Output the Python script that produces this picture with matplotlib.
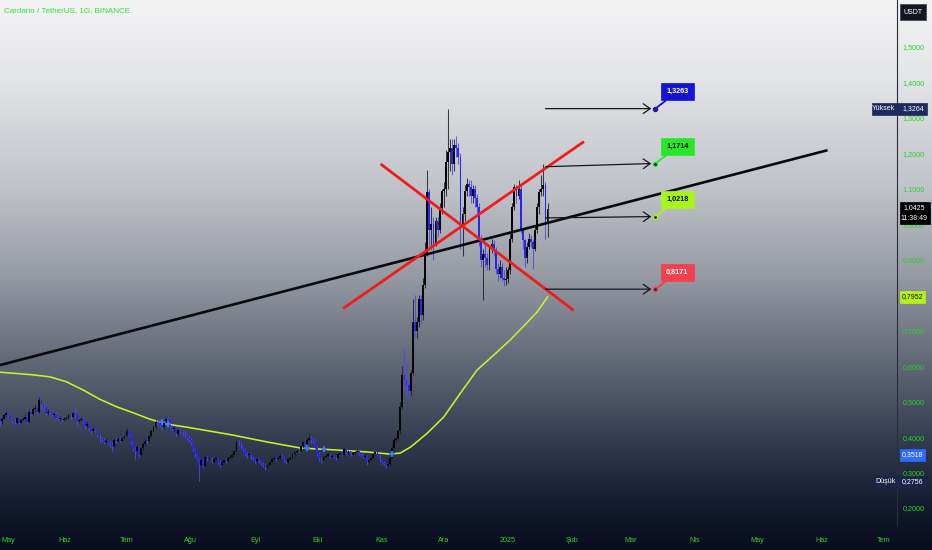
import numpy as np
import pandas as pd
import matplotlib
matplotlib.use("Agg")
import matplotlib.pyplot as plt
from matplotlib.transforms import blended_transform_factory, ScaledTranslation
from matplotlib.patches import Rectangle

plt.rcParams['font.family'] = ['Liberation Sans Narrow', 'Liberation Sans', 'DejaVu Sans']

# ---------------- data (daily ADA/USDT) ----------------
start_date = '2024-05-01'
first_open = 0.458

close_may = [0.445, 0.452, 0.462, 0.468, 0.463, 0.452, 0.445, 0.441, 0.454, 0.440,
             0.448, 0.452, 0.458, 0.443, 0.472, 0.465, 0.478, 0.482, 0.470, 0.505,
             0.492, 0.485, 0.468, 0.472, 0.470, 0.462, 0.466, 0.455, 0.450, 0.454,
             0.448]
high_may = [0.462, 0.458, 0.466, 0.474, 0.470, 0.468, 0.456, 0.450, 0.458, 0.458,
            0.452, 0.456, 0.464, 0.462, 0.476, 0.478, 0.484, 0.490, 0.486, 0.512,
            0.520, 0.498, 0.490, 0.478, 0.478, 0.474, 0.472, 0.470, 0.460, 0.460,
            0.458]
low_may = [0.432, 0.438, 0.450, 0.458, 0.458, 0.448, 0.440, 0.436, 0.438, 0.436,
           0.438, 0.444, 0.448, 0.440, 0.440, 0.460, 0.462, 0.474, 0.466, 0.468,
           0.480, 0.476, 0.460, 0.462, 0.464, 0.458, 0.458, 0.450, 0.446, 0.446,
           0.442]

close_jun = [0.452, 0.455, 0.462, 0.458, 0.468, 0.465, 0.445, 0.448, 0.452, 0.446,
             0.430, 0.438, 0.425, 0.418, 0.422, 0.420, 0.405, 0.395, 0.392, 0.386,
             0.388, 0.383, 0.378, 0.375, 0.392, 0.388, 0.395, 0.390, 0.396, 0.402]
high_jun = [0.456, 0.460, 0.466, 0.466, 0.472, 0.487, 0.468, 0.452, 0.456, 0.456,
            0.448, 0.446, 0.440, 0.428, 0.428, 0.426, 0.424, 0.410, 0.400, 0.398,
            0.394, 0.392, 0.388, 0.382, 0.396, 0.396, 0.400, 0.400, 0.400, 0.405]
low_jun = [0.444, 0.448, 0.450, 0.452, 0.455, 0.455, 0.430, 0.440, 0.444, 0.440,
           0.424, 0.426, 0.420, 0.410, 0.414, 0.414, 0.400, 0.385, 0.386, 0.380,
           0.382, 0.378, 0.372, 0.362, 0.372, 0.384, 0.385, 0.386, 0.388, 0.394]

close_jul = [0.418, 0.405, 0.385, 0.365, 0.360, 0.372, 0.350, 0.368, 0.380, 0.390,
             0.388, 0.402, 0.418, 0.428, 0.442, 0.440, 0.435, 0.428, 0.445, 0.452,
             0.448, 0.430, 0.422, 0.425, 0.408, 0.420, 0.415, 0.410, 0.405, 0.398,
             0.392]
high_jul = [0.425, 0.420, 0.408, 0.388, 0.372, 0.378, 0.375, 0.372, 0.386, 0.394,
            0.396, 0.406, 0.422, 0.432, 0.448, 0.450, 0.446, 0.440, 0.450, 0.458,
            0.460, 0.452, 0.434, 0.430, 0.428, 0.424, 0.425, 0.418, 0.418, 0.408,
            0.402]
low_jul = [0.400, 0.400, 0.380, 0.360, 0.338, 0.355, 0.345, 0.346, 0.362, 0.376,
           0.380, 0.384, 0.398, 0.414, 0.424, 0.432, 0.428, 0.420, 0.424, 0.440,
           0.440, 0.426, 0.416, 0.415, 0.402, 0.404, 0.408, 0.402, 0.400, 0.392,
           0.386]

close_aug = [0.385, 0.365, 0.352, 0.338, 0.322, 0.335, 0.318, 0.345, 0.338, 0.342,
             0.330, 0.338, 0.340, 0.328, 0.322, 0.330, 0.335, 0.332, 0.340, 0.345,
             0.350, 0.360, 0.385, 0.380, 0.378, 0.365, 0.352, 0.350, 0.352, 0.345,
             0.340]
high_aug = [0.396, 0.388, 0.368, 0.356, 0.340, 0.342, 0.340, 0.350, 0.350, 0.346,
            0.344, 0.345, 0.346, 0.342, 0.334, 0.334, 0.338, 0.340, 0.344, 0.350,
            0.354, 0.364, 0.392, 0.392, 0.386, 0.380, 0.368, 0.358, 0.358, 0.354,
            0.348]
low_aug = [0.378, 0.360, 0.345, 0.334, 0.2756, 0.315, 0.312, 0.316, 0.332, 0.334,
           0.326, 0.328, 0.332, 0.324, 0.316, 0.320, 0.328, 0.328, 0.328, 0.336,
           0.342, 0.348, 0.358, 0.374, 0.370, 0.360, 0.346, 0.342, 0.344, 0.338,
           0.334]

close_sep = [0.332, 0.338, 0.332, 0.325, 0.322, 0.315, 0.322, 0.330, 0.338, 0.342,
             0.338, 0.340, 0.348, 0.345, 0.335, 0.330, 0.338, 0.342, 0.352, 0.358,
             0.362, 0.360, 0.375, 0.385, 0.380, 0.392, 0.398, 0.392, 0.390, 0.370]
high_sep = [0.342, 0.342, 0.342, 0.334, 0.330, 0.326, 0.326, 0.334, 0.342, 0.346,
            0.345, 0.344, 0.352, 0.352, 0.348, 0.338, 0.342, 0.346, 0.358, 0.362,
            0.366, 0.366, 0.378, 0.390, 0.390, 0.398, 0.412, 0.402, 0.398, 0.394]
low_sep = [0.326, 0.328, 0.328, 0.318, 0.316, 0.308, 0.312, 0.318, 0.328, 0.334,
           0.332, 0.332, 0.336, 0.340, 0.330, 0.324, 0.326, 0.334, 0.338, 0.348,
           0.354, 0.354, 0.358, 0.370, 0.374, 0.376, 0.388, 0.384, 0.384, 0.365]

close_oct = [0.352, 0.338, 0.335, 0.345, 0.348, 0.350, 0.345, 0.348, 0.342, 0.340,
             0.352, 0.355, 0.350, 0.365, 0.355, 0.360, 0.352, 0.355, 0.358, 0.362,
             0.355, 0.352, 0.345, 0.348, 0.330, 0.335, 0.342, 0.352, 0.358, 0.350,
             0.335]
high_oct = [0.374, 0.358, 0.345, 0.348, 0.352, 0.354, 0.356, 0.352, 0.350, 0.346,
            0.355, 0.358, 0.358, 0.368, 0.370, 0.364, 0.362, 0.358, 0.362, 0.366,
            0.364, 0.358, 0.354, 0.352, 0.350, 0.338, 0.344, 0.355, 0.362, 0.362,
            0.352]
low_oct = [0.346, 0.332, 0.328, 0.332, 0.342, 0.344, 0.340, 0.342, 0.338, 0.334,
           0.338, 0.350, 0.346, 0.348, 0.350, 0.352, 0.348, 0.350, 0.352, 0.355,
           0.350, 0.346, 0.340, 0.340, 0.322, 0.326, 0.332, 0.338, 0.350, 0.346,
           0.330]

close_nov = [0.328, 0.325, 0.318, 0.325, 0.342, 0.370, 0.392, 0.395, 0.418, 0.485,
             0.575, 0.560, 0.548, 0.530, 0.580, 0.725, 0.700, 0.725, 0.790, 0.745,
             0.830, 0.920, 1.090, 0.985, 1.000, 0.945, 1.010, 0.985, 1.045, 1.095]
high_nov = [0.338, 0.332, 0.328, 0.330, 0.346, 0.380, 0.400, 0.402, 0.422, 0.500,
            0.600, 0.650, 0.610, 0.570, 0.590, 0.790, 0.800, 0.740, 0.800, 0.800,
            0.850, 0.950, 1.153, 1.100, 1.050, 1.020, 1.020, 1.020, 1.060, 1.100]
low_nov = [0.322, 0.320, 0.312, 0.316, 0.318, 0.338, 0.362, 0.382, 0.392, 0.410,
           0.480, 0.530, 0.515, 0.510, 0.520, 0.575, 0.680, 0.680, 0.710, 0.720,
           0.730, 0.820, 0.910, 0.940, 0.930, 0.900, 0.940, 0.965, 0.975, 1.030]

close_dec = [1.100, 1.175, 1.205, 1.215, 1.170, 1.225, 1.215, 1.190, 1.000, 1.030,
             1.095, 1.115, 1.105, 1.080, 1.100, 1.075, 1.050, 0.950, 0.900, 0.915,
             0.905, 0.885, 0.930, 0.945, 0.925, 0.875, 0.860, 0.880, 0.850, 0.842,
             0.845]
high_dec = [1.120, 1.210, 1.3264, 1.240, 1.240, 1.240, 1.250, 1.230, 1.200, 1.050,
            1.110, 1.130, 1.125, 1.125, 1.110, 1.110, 1.085, 1.060, 0.970, 0.930,
            0.950, 0.920, 0.940, 0.960, 0.955, 0.935, 0.890, 0.900, 0.890, 0.870,
            0.880]
low_dec = [1.050, 1.080, 1.100, 1.150, 1.140, 1.150, 1.190, 1.170, 0.930, 0.910,
           1.010, 1.080, 1.080, 1.060, 1.060, 1.050, 1.030, 0.940, 0.880, 0.787,
           0.880, 0.870, 0.870, 0.920, 0.910, 0.860, 0.840, 0.850, 0.840, 0.825,
           0.830]

close_jan = [0.870, 0.960, 1.050, 1.105, 1.080, 1.100, 0.985, 0.955, 0.905, 0.935,
             0.960, 0.950, 0.930, 0.985, 1.050, 1.090, 1.100, 1.110, 1.000, 1.0425]
high_jan = [0.880, 0.975, 1.060, 1.115, 1.110, 1.125, 1.110, 0.990, 0.960, 0.950,
            0.975, 0.970, 0.960, 0.995, 1.060, 1.100, 1.140, 1.170, 1.120, 1.060]
low_jan = [0.835, 0.860, 0.950, 1.040, 1.060, 1.070, 0.975, 0.930, 0.880, 0.890,
           0.930, 0.935, 0.875, 0.925, 0.975, 1.030, 1.080, 1.080, 0.960, 0.965]

# moving average line (yellow-green) sampled from the chart
ma_dates = ['2024-05-01', '2024-05-16', '2024-05-25', '2024-06-02', '2024-06-10',
            '2024-06-18', '2024-06-26', '2024-07-04', '2024-07-12', '2024-07-20',
            '2024-07-30', '2024-08-15', '2024-08-21', '2024-09-07', '2024-09-23',
            '2024-10-09', '2024-10-25', '2024-11-05', '2024-11-10', '2024-11-15',
            '2024-11-23', '2024-12-01', '2024-12-09', '2024-12-17', '2024-12-25',
            '2025-01-02', '2025-01-10', '2025-01-15', '2025-01-20']
ma_values = [0.583, 0.576, 0.570, 0.556, 0.533, 0.507, 0.486, 0.469, 0.451, 0.437,
             0.428, 0.412, 0.406, 0.386, 0.369, 0.364, 0.358, 0.352, 0.355, 0.372,
             0.411, 0.457, 0.524, 0.589, 0.631, 0.674, 0.722, 0.753, 0.7952]

# cross markers on the MA
cross_dates = ['2024-07-18', '2024-07-21', '2024-09-26', '2024-10-04', '2024-11-06']
cross_values = [0.442, 0.436, 0.368, 0.366, 0.353]

# drawings
trend_dates = ['2024-05-01', '2025-06-04']
trend_prices = [0.603, 1.209]
red_up_dates = ['2024-10-14', '2025-02-06']
red_up_prices = [0.765, 1.231]
red_down_dates = ['2024-11-01', '2025-02-01']
red_down_prices = [1.168, 0.760]

arrow_start_date = '2025-01-19'
arrow_end_date = '2025-03-11'
arrow_start_prices = [1.3263, 1.1625, 1.018, 0.8171]
tag_date = '2025-03-13'
tag_prices = [1.3263, 1.1714, 1.0218, 0.8171]
tag_colors = ['#1414d2', '#2ae62a', '#a8f51e', '#f2404f']
tag_text_colors = ['white', '#0d0d0d', '#0d0d0d', 'white']

month_labels = ['May', 'Haz', 'Tem', 'Ağu', 'Eyl', 'Eki', 'Kas', 'Ara', '2025',
                'Şub', 'Mar', 'Nis', 'May', 'Haz', 'Tem']
price_ticks = [0.2, 0.3, 0.4, 0.5, 0.6, 0.7, 0.8, 0.9, 1.0, 1.1, 1.2, 1.3, 1.4, 1.5]

title = 'Cardano / TetherUS, 1G, BINANCE'
high_label, high_value = 'Yüksek', 1.3264
low_label, low_value = 'Düşük', 0.2756
last_price, countdown = 1.0425, '11:38:49'
ma_last = 0.7952
blue_last = 0.3518

# ---------------- build series ----------------
close = np.array(close_may + close_jun + close_jul + close_aug + close_sep +
                 close_oct + close_nov + close_dec + close_jan)
high = np.array(high_may + high_jun + high_jul + high_aug + high_sep +
                high_oct + high_nov + high_dec + high_jan)
low = np.array(low_may + low_jun + low_jul + low_aug + low_sep +
               low_oct + low_nov + low_dec + low_jan)
opens = np.r_[first_open, close[:-1]]
high = np.maximum(high, np.maximum(opens, close))
low = np.minimum(low, np.minimum(opens, close))

ref = pd.Timestamp('2024-06-01')
def day(d):
    return (pd.to_datetime(d) - ref) / pd.Timedelta(days=1)

dates = pd.date_range(start_date, periods=len(close), freq='D')
x = np.asarray(day(dates), dtype=float)

# ---------------- figure ----------------
W, H = 932, 550
fig = plt.figure(figsize=(W / 100, H / 100), dpi=100)

bg = fig.add_axes([0, 0, 1, 1], zorder=0)
stops = [0.0, 0.15, 0.35, 0.5, 0.65, 0.8, 0.92, 1.0]
rgb = [(244, 244, 245), (226, 227, 230), (190, 193, 199), (150, 154, 163),
       (100, 106, 120), (52, 60, 80), (20, 27, 46), (8, 13, 30)]
yy = np.linspace(0, 1, H)
cols = np.stack([np.interp(yy, stops, [c[i] for c in rgb]) for i in range(3)], axis=1) / 255
bg.imshow(np.repeat(cols[:, None, :], 4, axis=1), aspect='auto', extent=[0, 1, 0, 1],
          interpolation='bilinear')
bg.axis('off')

plot_right_px = 897
plot_bottom_px = 525
ax = fig.add_axes([0, (H - plot_bottom_px) / H, plot_right_px / W, plot_bottom_px / H], zorder=1)
ax.patch.set_alpha(0)

px_per_day = 2.0748
px_per_unit = 354.6
x_left = -64 / px_per_day
x_right = (plot_right_px - 64) / px_per_day
y_top = 0.2 + 508 / px_per_unit
y_bot = 0.2 - (plot_bottom_px - 508) / px_per_unit
ax.set_xlim(x_left, x_right)
ax.set_ylim(y_bot, y_top)

green = '#27d327'
up_col, dn_col = '#050505', '#2626ec'

# MA line
ax.plot(day(ma_dates), ma_values, color='#c9f12a', lw=1.15, zorder=2)

# candles
up = close >= opens
ccol = np.where(up, up_col, dn_col)
wick_col = np.where(up, '#202020', '#4a4af0')
ax.vlines(x, low, high, colors=wick_col, lw=0.75, alpha=0.85, zorder=3)
ax.bar(x, np.maximum(np.abs(close - opens), 0.003), bottom=np.minimum(opens, close),
       width=0.9, color=ccol, linewidth=0, zorder=3)

ax.plot(day(cross_dates), cross_values, linestyle='none', marker='+', ms=5, mew=1.3,
        color='#3d7bff', zorder=4)

# drawings
ax.plot(day(trend_dates), trend_prices, color='#0a0a0a', lw=1.9, zorder=5,
        solid_capstyle='butt')
ax.plot(day(red_up_dates), red_up_prices, color='#f01c1c', lw=2.0, zorder=5)
ax.plot(day(red_down_dates), red_down_prices, color='#f01c1c', lw=2.0, zorder=5)

for p0, p1 in zip(arrow_start_prices, tag_prices):
    ax.annotate('', xy=(day(arrow_end_date), p1), xytext=(day(arrow_start_date), p0),
                arrowprops=dict(arrowstyle='->,head_length=0.5,head_width=0.35',
                                color='#15171f', lw=0.9, shrinkA=0, shrinkB=0),
                zorder=6)

for p, c, tc in zip(tag_prices, tag_colors, tag_text_colors):
    ax.annotate(f'{p:.4f}'.replace('.', ','), xy=(day(tag_date), p), xytext=(22, 17),
                textcoords='offset pixels', ha='center', va='center', fontsize=5.2,
                fontweight='bold', color=tc, zorder=7,
                bbox=dict(boxstyle='square,pad=0.7', fc=c, ec=c, lw=0.5),
                arrowprops=dict(arrowstyle='-', color=c, lw=1.3, shrinkA=0, shrinkB=1.5))
    ax.plot(day(tag_date), p, 'o', ms=3, mfc='#2a2d36', mec=c, mew=0.9, zorder=8)

# axes styling
for s in ['top', 'left', 'bottom']:
    ax.spines[s].set_visible(False)
ax.spines['right'].set_color('#2a2e39')
ax.spines['right'].set_linewidth(0.8)

month_pos = day(pd.date_range('2024-05-01', periods=len(month_labels), freq='MS'))
ax.set_xticks(np.asarray(month_pos, dtype=float))
ax.set_xticklabels(month_labels)
ax.tick_params(axis='x', length=0, pad=9, labelsize=5.2, labelcolor=green)
first_lbl = ax.get_xticklabels()[0]
first_lbl.set_horizontalalignment('left')
first_lbl.set_transform(first_lbl.get_transform() + ScaledTranslation(1.5 / 100, 0, fig.dpi_scale_trans))

ax.yaxis.tick_right()
ax.set_yticks(price_ticks)
ax.set_yticklabels([f'{v:.4f}'.replace('.', ',') for v in price_ticks])
ax.tick_params(axis='y', length=0, pad=4, labelsize=5.2, labelcolor=green)

# title
fig.text(4 / W, 1 - 11 / H, title, color='#2ee22e', fontsize=5.8, va='center', ha='left')

# right-axis tags
tr = blended_transform_factory(fig.transFigure, ax.transData)
def tag(center_px_y, x0, x1, hpx, fc, texts, ec=None):
    yc = 0.2 + (508 - center_px_y) / px_per_unit
    h = hpx / px_per_unit
    ax.add_patch(Rectangle((x0 / W, yc - h / 2), (x1 - x0) / W, h, transform=tr,
                           fc=fc, ec=ec or fc, lw=0.5, clip_on=False, zorder=9))
    for (tx, ty, s, col) in texts:
        ax.text(tx / W, 0.2 + (508 - ty) / px_per_unit, s, transform=tr, ha='center',
                va='center', fontsize=5.0, color=col, clip_on=False, zorder=10)

fmt = lambda v: f'{v:.4f}'.replace('.', ',')
tag(12, 900, 926, 16, '#131722', [(913, 12, 'USDT', 'white')], ec='#3a3e4a')
tag(108.6, 872, 927, 12, '#1d2a5e', [(883, 108.6, high_label, 'white'),
                                      (913, 108.6, fmt(high_value), 'white')])
tag(213, 900, 930, 22, '#000000', [(914, 207.5, fmt(last_price), 'white'),
                                    (914, 218.5, countdown, 'white')])
tag(297, 900, 925, 12, '#b5f21d', [(912.5, 297, fmt(ma_last), '#111111')])
tag(455, 900, 925, 12, '#2f6bff', [(912.5, 455, fmt(blue_last), 'white')])
tag(481.5, 874, 927, 11, '#1a2548', [(885, 481.5, low_label, 'white'),
                                      (913, 481.5, fmt(low_value), 'white')])

fig.savefig('out.png', dpi=100)
